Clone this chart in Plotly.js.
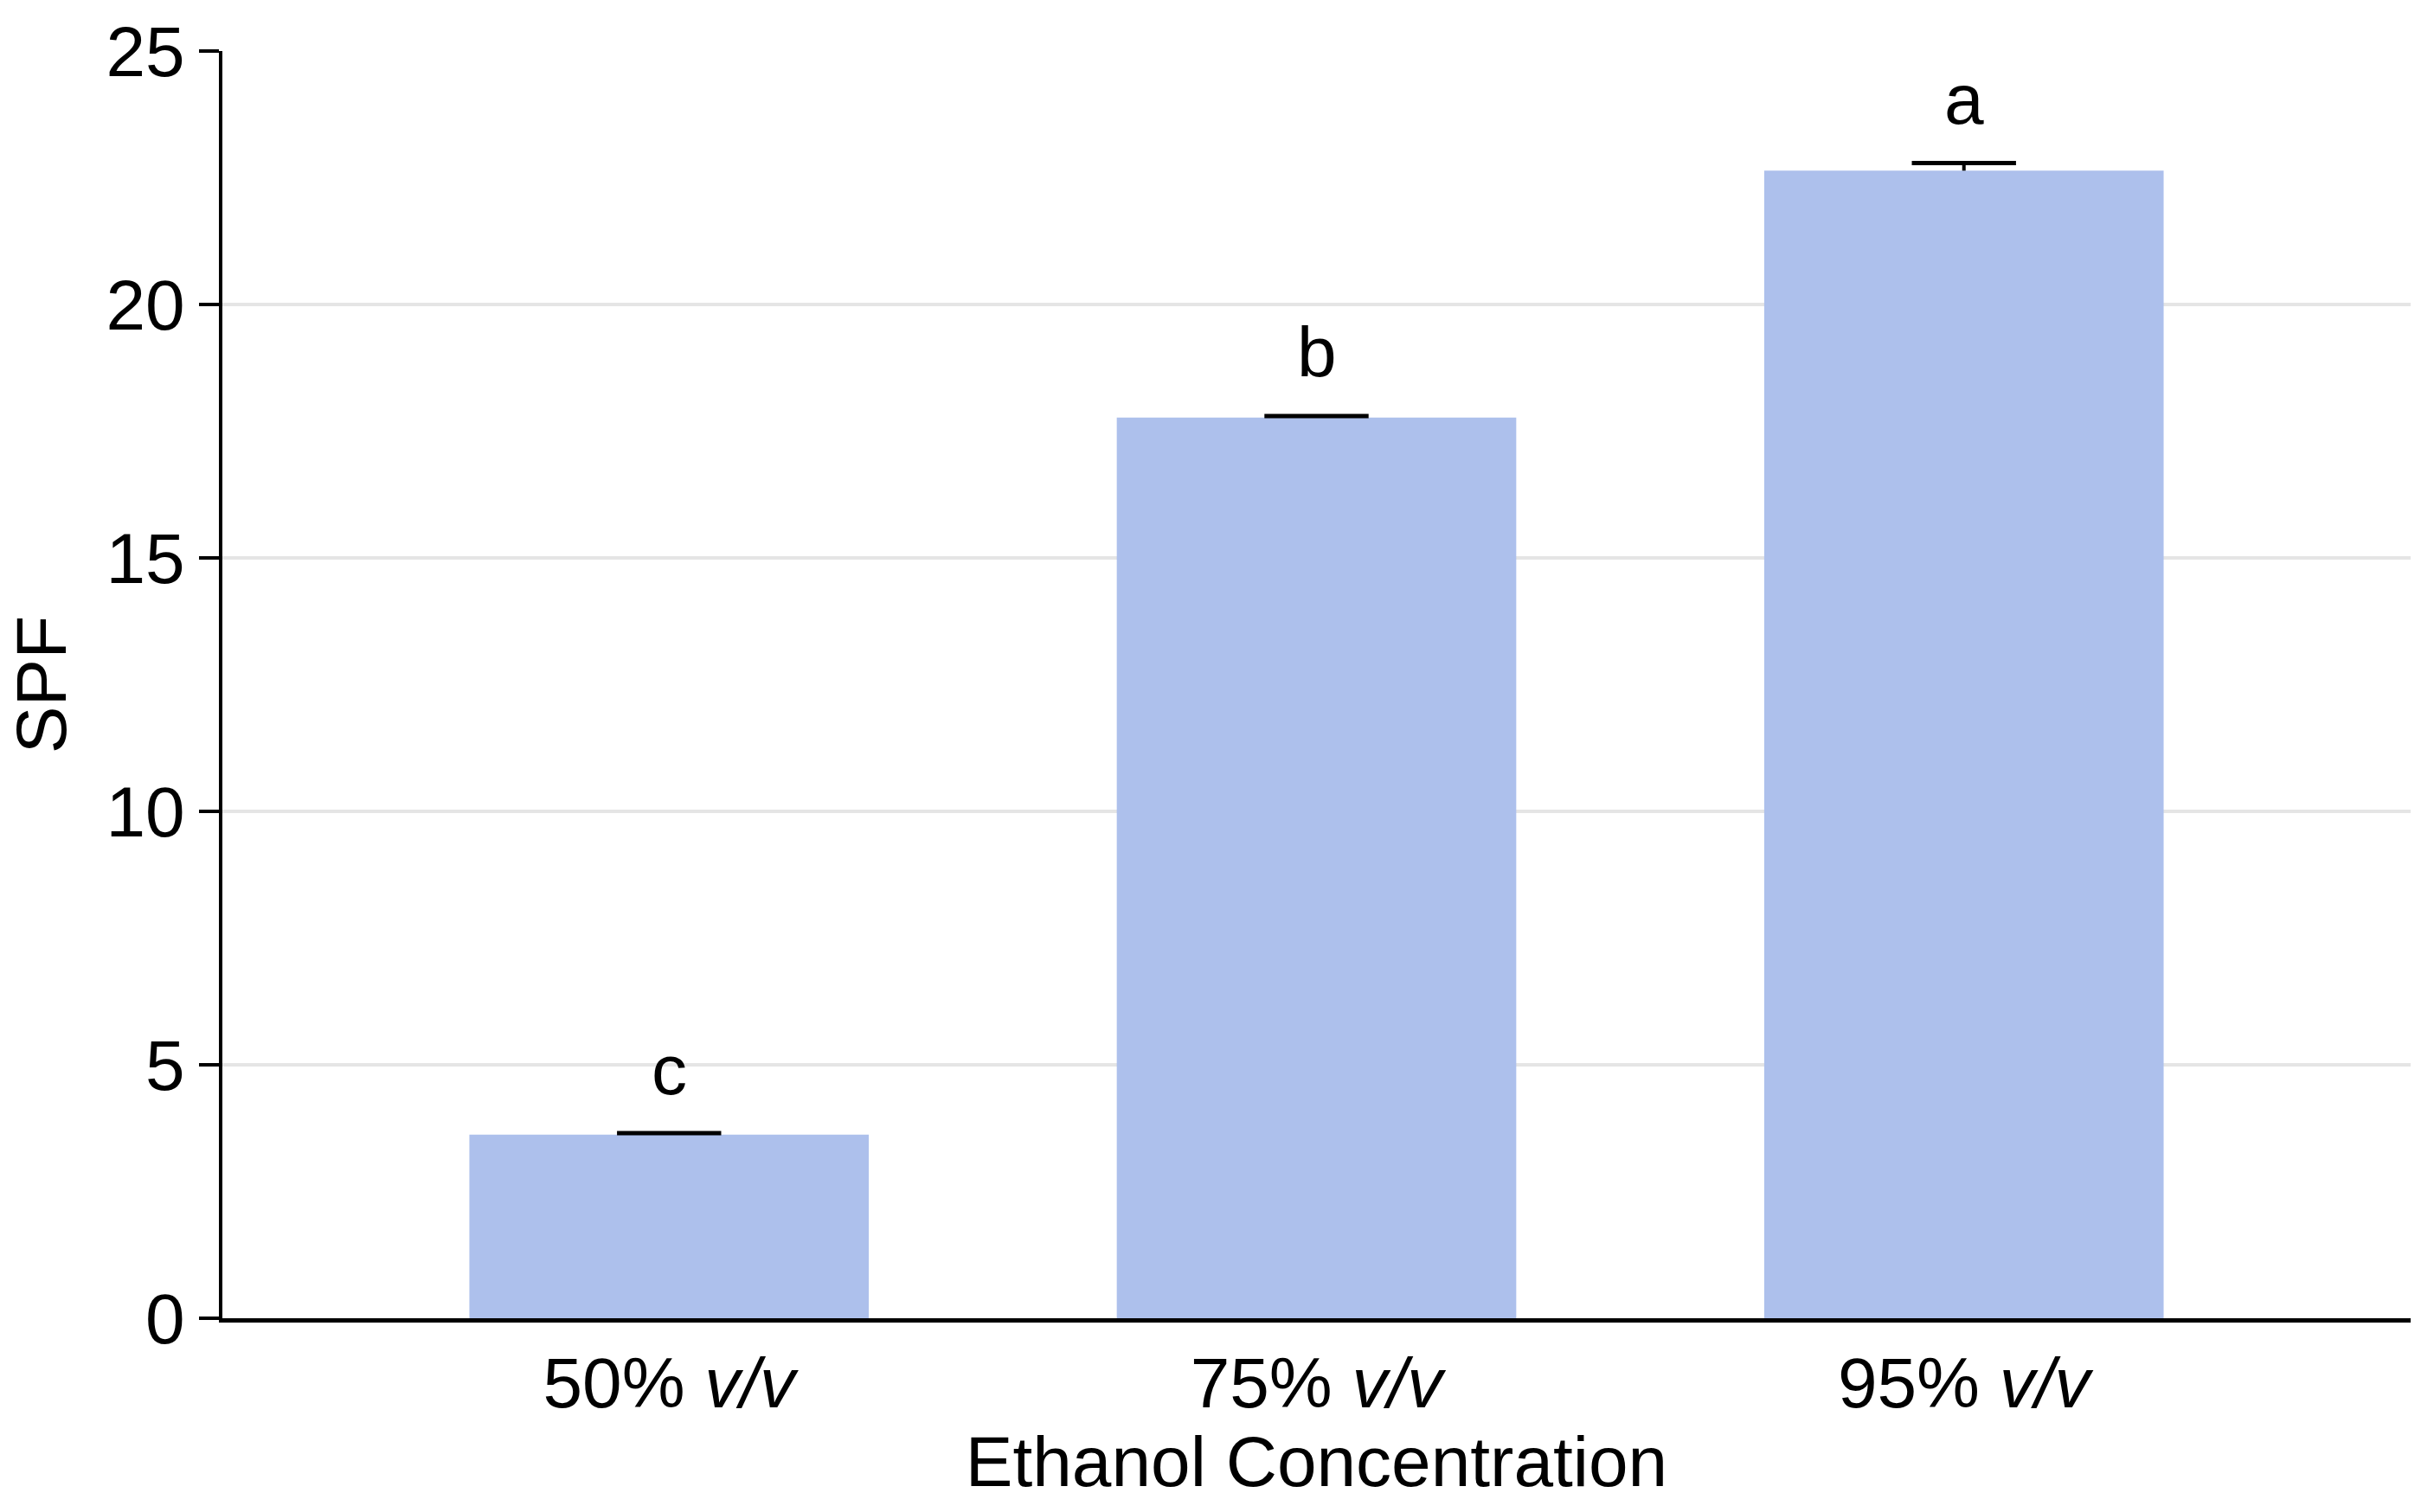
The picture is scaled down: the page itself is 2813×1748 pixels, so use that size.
<!DOCTYPE html>
<html>
<head>
<meta charset="utf-8">
<script src="https://cdn.plot.ly/plotly-3.0.1.min.js"></script>
<style>
  html, body { margin: 0; padding: 0; background: #fff; }
  #chart { width: 2813px; height: 1748px; }
</style>
</head>
<body>
<div id="chart"></div>
<script>
var categories = ["50% <i>v/v</i>", "75% <i>v/v</i>", "95% <i>v/v</i>"];
var spf_values = [3.62, 17.77, 22.64];
var spf_errors = [0.03, 0.03, 0.15];
var group_letters = ["c", "b", "a"];
var y_ticks = [0, 5, 10, 15, 20, 25];

var font_family = "Liberation Sans, Arial, sans-serif";
var font_size = 82;
var bar_color = '#adc0ec';

var bars =
{
    x: categories,
    y: spf_values,
    type: 'bar',
    width: 0.617,
    marker: { color: bar_color },
    hoverinfo: 'none'
};

// upper error bar only: cap marker at mean + error, stem down to the bar top
var upper = spf_values.map((v, i) => v + spf_errors[i]);
var caps =
{
    x: categories,
    y: upper,
    type: 'scatter',
    mode: 'markers',
    marker: { symbol: 'line-ew', size: 86, line: { width: 5, color: '#000' } },
    error_y:
    {
        type: 'data', symmetric: false,
        array: spf_errors.map(() => 0), arrayminus: spf_errors,
        visible: true, color: '#000', thickness: 4, width: 0
    },
    hoverinfo: 'none'
};

var letters = [];
for (let i = 0; i < categories.length; ++i)
{
    letters.push({
        x: categories[i],
        y: upper[i],
        xref: 'x', yref: 'y',
        text: group_letters[i],
        showarrow: false,
        yanchor: 'middle',
        yshift: 74,
        font: { family: font_family, size: font_size, color: '#000' }
    });
}

var layout =
{
    width: 2813,
    height: 1748,
    margin: { l: 257, r: 27, t: 59, b: 224 },
    paper_bgcolor: '#fff',
    plot_bgcolor: '#fff',
    showlegend: false,
    font: { family: font_family, size: font_size, color: '#000' },
    xaxis:
    {
        type: 'category',
        range: [-0.69, 2.69],
        showline: true, linecolor: '#000', linewidth: 5,
        ticks: '', showgrid: false,
        tickfont: { family: font_family, size: font_size },
        title: { text: 'Ethanol Concentration', standoff: 18, font: { family: font_family, size: font_size } }
    },
    yaxis:
    {
        range: [0, 25],
        tickvals: y_ticks,
        showline: true, linecolor: '#000', linewidth: 4,
        ticks: 'outside', ticklen: 23, tickwidth: 4, tickcolor: '#000',
        showgrid: true, gridcolor: '#e5e5e5', gridwidth: 4,
        zeroline: false,
        tickfont: { family: font_family, size: font_size },
        title: { text: 'SPF', standoff: 20, font: { family: font_family, size: font_size } }
    },
    annotations: letters
};

Plotly.newPlot('chart', [bars, caps], layout, { staticPlot: true });
</script>
</body>
</html>
